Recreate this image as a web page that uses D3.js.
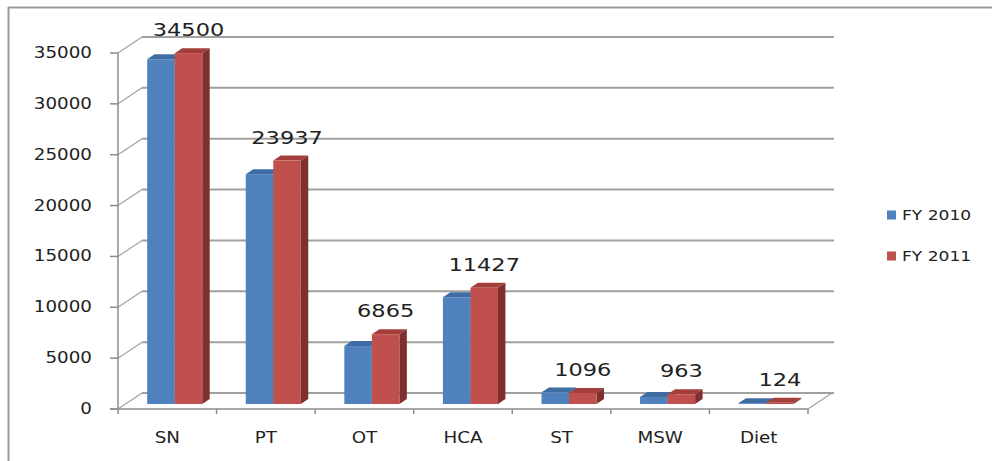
<!DOCTYPE html>
<html>
<head>
<meta charset="utf-8">
<script src="https://cdn.jsdelivr.net/npm/d3@7"></script>
<style>
  body { margin: 0; background: #fff; }
  text { font-family: "DejaVu Sans", sans-serif; fill: #222; }
</style>
</head>
<body>
<div id="chart"></div>
<script>
// chart data
const categories = ["SN", "PT", "OT", "HCA", "ST", "MSW", "Diet"];
const seriesNames = ["FY 2010", "FY 2011"];
const fy2010 = [33900, 22600, 5700, 10500, 1150, 700, 90];
const fy2011 = [34500, 23937, 6865, 11427, 1096, 963, 124];
const yTicks = [0, 5000, 10000, 15000, 20000, 25000, 30000, 35000];

const width = 992, height = 461;
const colors = {
    "FY 2010": {front: "#4f81bd", side: "#385d8a", top: "#3f6da3"},
    "FY 2011": {front: "#c0504d", side: "#7f2f2d", top: "#a33e3b"}
};

// 3d depth of the floor (front axis -> back wall)
const DX = 24, DY = -16;
const f0 = 0.31, f1 = 0.62;   // bar front / back depth fraction
const sx = 1.22;              // horizontal stretch of the text

const svg = d3.select("#chart").append("svg")
    .attr("width", width)
    .attr("height", height);

// outer frame (top + left edge only visible)
svg.append("line").attr("x1", 8).attr("x2", width).attr("y1", 7.5).attr("y2", 7.5)
    .attr("stroke", "#9a9a9a").attr("stroke-width", 2);
svg.append("line").attr("x1", 8.5).attr("x2", 8.5).attr("y1", 7).attr("y2", height)
    .attr("stroke", "#9a9a9a").attr("stroke-width", 2);

const x = d3.scaleBand().domain(categories).range([118, 808]);
const xs = d3.scaleBand().domain(seriesNames).range([0, x.bandwidth()]).paddingOuter(0.79);
const y = d3.scaleLinear().domain([0, 35000]).range([409, 53]);

// back wall gridlines + side wall diagonals
const grid = svg.append("g");
yTicks.forEach(function(t) {
    grid.append("line")
        .attr("x1", 118 + DX).attr("x2", 808 + DX + 2)
        .attr("y1", y(t) + DY).attr("y2", y(t) + DY)
        .attr("stroke", "#a0a0a0").attr("stroke-width", 2);
    grid.append("line")
        .attr("x1", 118).attr("x2", 118 + DX)
        .attr("y1", y(t)).attr("y2", y(t) + DY)
        .attr("stroke", "#a0a0a0").attr("stroke-width", 1.2);
});
// floor right edge
svg.append("line")
    .attr("x1", 808).attr("x2", 808 + DX)
    .attr("y1", y(0)).attr("y2", y(0) + DY)
    .attr("stroke", "#a0a0a0").attr("stroke-width", 1.2);

// axes
const axisCol = "#8c8c8c";
svg.append("line").attr("x1", 118).attr("x2", 118).attr("y1", y(35000)).attr("y2", y(0))
    .attr("stroke", axisCol).attr("stroke-width", 1.5);
svg.append("line").attr("x1", 110).attr("x2", 808).attr("y1", y(0)).attr("y2", y(0))
    .attr("stroke", axisCol).attr("stroke-width", 1.5);

yTicks.forEach(function(t) {
    svg.append("line").attr("x1", 110).attr("x2", 118).attr("y1", y(t)).attr("y2", y(t))
        .attr("stroke", axisCol).attr("stroke-width", 1.5);
    svg.append("text")
        .attr("transform", "translate(92," + (y(t) + 5) + ") scale(" + sx + ",1)")
        .attr("text-anchor", "end")
        .style("font-size", "15px")
        .text(t);
});

categories.forEach(function(c, i) {
    svg.append("line").attr("x1", x(c)).attr("x2", x(c)).attr("y1", y(0)).attr("y2", y(0) + 5)
        .attr("stroke", axisCol).attr("stroke-width", 1.5);
    svg.append("text")
        .attr("transform", "translate(" + (x(c) + x.bandwidth() / 2) + ",443) scale(" + sx + ",1)")
        .attr("text-anchor", "middle")
        .style("font-size", "15px")
        .text(c);
});
svg.append("line").attr("x1", 808).attr("x2", 808).attr("y1", y(0)).attr("y2", y(0) + 5)
    .attr("stroke", axisCol).attr("stroke-width", 1.5);

// bars
const bars = svg.append("g");
const dDx = (f1 - f0) * DX, dDy = (f1 - f0) * DY;

categories.forEach(function(c, i) {
    [fy2010, fy2011].forEach(function(vals, s) {
        const name = seriesNames[s];
        const col = colors[name];
        const xl = x(c) + xs(name) + f0 * DX;
        const xr = xl + xs.bandwidth();
        const top = y(vals[i]) + f0 * DY;
        const bot = y(0) + f0 * DY;

        bars.append("polygon")
            .attr("points", [[xl, top], [xr, top], [xr + dDx, top + dDy], [xl + dDx, top + dDy]].join(" "))
            .attr("fill", col.top);
        bars.append("polygon")
            .attr("points", [[xr, top], [xr + dDx, top + dDy], [xr + dDx, bot + dDy], [xr, bot]].join(" "))
            .attr("fill", col.side);
        bars.append("rect")
            .attr("x", xl).attr("y", top)
            .attr("width", xs.bandwidth()).attr("height", bot - top)
            .attr("fill", col.front);

        // data labels on the FY 2011 series
        if (s === 1) {
            svg.append("text")
                .attr("transform", "translate(" + ((xl + xr) / 2) + "," + (top + dDy - 12) + ") scale(" + 1.25 + ",1)")
                .attr("text-anchor", "middle")
                .style("font-size", "18px")
                .text(vals[i]);
        }
    });
});

// legend
const legend = svg.append("g");
seriesNames.forEach(function(n, i) {
    const ly = 215 + i * 41;
    legend.append("rect")
        .attr("x", 887).attr("y", ly - 4.5)
        .attr("width", 9).attr("height", 9)
        .attr("fill", colors[n].front);
    legend.append("text")
        .attr("transform", "translate(902," + (ly + 5) + ") scale(" + sx + ",1)")
        .style("font-size", "14px")
        .text(n);
});
</script>
</body>
</html>
